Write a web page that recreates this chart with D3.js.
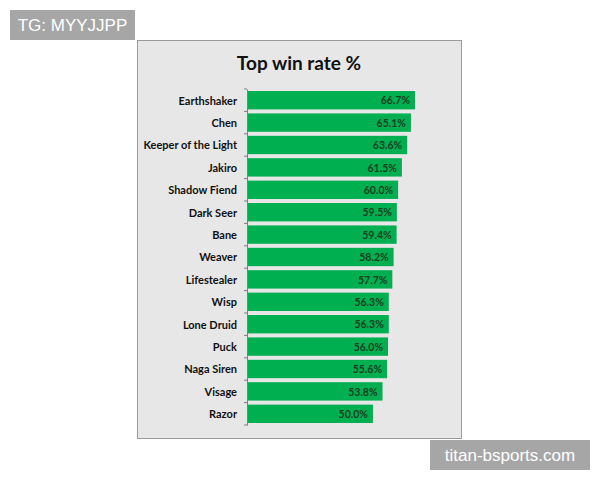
<!DOCTYPE html>
<html>
<head>
<meta charset="utf-8">
<script src="https://cdn.jsdelivr.net/npm/d3@7"></script>
<style>
  body { margin: 0; background: #fff; }
  svg { display: block; }
</style>
</head>
<body>
<div id="chart"></div>
<script>
// heroes and win rates, top to bottom
const heroes = ["Earthshaker", "Chen", "Keeper of the Light", "Jakiro", "Shadow Fiend",
    "Dark Seer", "Bane", "Weaver", "Lifestealer", "Wisp", "Lone Druid", "Puck",
    "Naga Siren", "Visage", "Razor"];
const winRates = [66.7, 65.1, 63.6, 61.5, 60.0, 59.5, 59.4, 58.2, 57.7, 56.3, 56.3, 56.0, 55.6, 53.8, 50.0];

const data = heroes.map((h, i) => ({hero: h, rate: winRates[i]}));

const svg = d3.select("#chart").append("svg")
    .attr("width", 600)
    .attr("height", 480);

// chart panel
svg.append("rect")
    .attr("x", 137.5).attr("y", 40.5)
    .attr("width", 324).attr("height", 398)
    .attr("fill", "#e7e7e7")
    .attr("stroke", "#9a9a9a");

svg.append("text")
    .attr("x", 299).attr("y", 70)
    .attr("text-anchor", "middle")
    .attr("font-family", "Lato, 'Open Sans', sans-serif")
    .attr("font-weight", "bold")
    .attr("font-size", "19px")
    .attr("fill", "#111")
    .text("Top win rate %");

const margin = {left: 247, top: 89};
const g = svg.append("g").attr("transform", `translate(${margin.left},${margin.top})`);

const x = d3.scaleLinear().domain([0, 66.7]).range([0, 168]);
const y = d3.scaleBand().domain(heroes).range([0, 336]).paddingInner(0.18).paddingOuter(0.09);

// bars
g.selectAll("rect.bar").data(data).enter().append("rect")
    .attr("class", "bar")
    .attr("x", 0)
    .attr("y", d => y(d.hero))
    .attr("width", d => x(d.rate))
    .attr("height", y.bandwidth())
    .attr("fill", "#00b050");

// value labels
g.selectAll("text.val").data(data).enter().append("text")
    .attr("class", "val")
    .attr("x", d => x(d.rate) - 5)
    .attr("y", d => y(d.hero) + y.bandwidth() / 2)
    .attr("dy", "0.4em")
    .attr("text-anchor", "end")
    .attr("font-family", "Lato, 'Open Sans', sans-serif")
    .attr("font-weight", "bold")
    .attr("font-size", "10.5px")
    .attr("fill", "#16401f")
    .text(d => d.rate.toFixed(1) + "%");

// category axis
const yAxis = d3.axisLeft(y).tickSize(0).tickPadding(10);
const axisG = g.append("g").call(yAxis);
axisG.select(".domain").attr("stroke", "#7f7f7f");
axisG.selectAll("text")
    .attr("dy", "0.4em")
    .attr("font-family", "Lato, 'Open Sans', sans-serif")
    .attr("font-weight", "bold")
    .attr("font-size", "11px")
    .attr("fill", "#111");

// small tick marks at category boundaries
const step = y.step();
g.selectAll("line.sep").data(d3.range(heroes.length + 1)).enter().append("line")
    .attr("class", "sep")
    .attr("x1", -3).attr("x2", 0)
    .attr("y1", i => i * step)
    .attr("y2", i => i * step)
    .attr("stroke", "#7f7f7f");

// watermark boxes
svg.append("rect").attr("x", 10).attr("y", 10).attr("width", 125).attr("height", 30).attr("fill", "#a6a6a6");
svg.append("text").attr("x", 72.5).attr("y", 31)
    .attr("text-anchor", "middle")
    .attr("font-family", "'Liberation Sans', sans-serif")
    .attr("font-size", "17px")
    .attr("fill", "#fff")
    .text("TG: MYYJJPP");

svg.append("rect").attr("x", 430).attr("y", 440).attr("width", 160).attr("height", 30).attr("fill", "#a6a6a6");
svg.append("text").attr("x", 510).attr("y", 461)
    .attr("text-anchor", "middle")
    .attr("font-family", "'Liberation Sans', sans-serif")
    .attr("font-size", "17px")
    .attr("fill", "#fff")
    .text("titan-bsports.com");
</script>
</body>
</html>
